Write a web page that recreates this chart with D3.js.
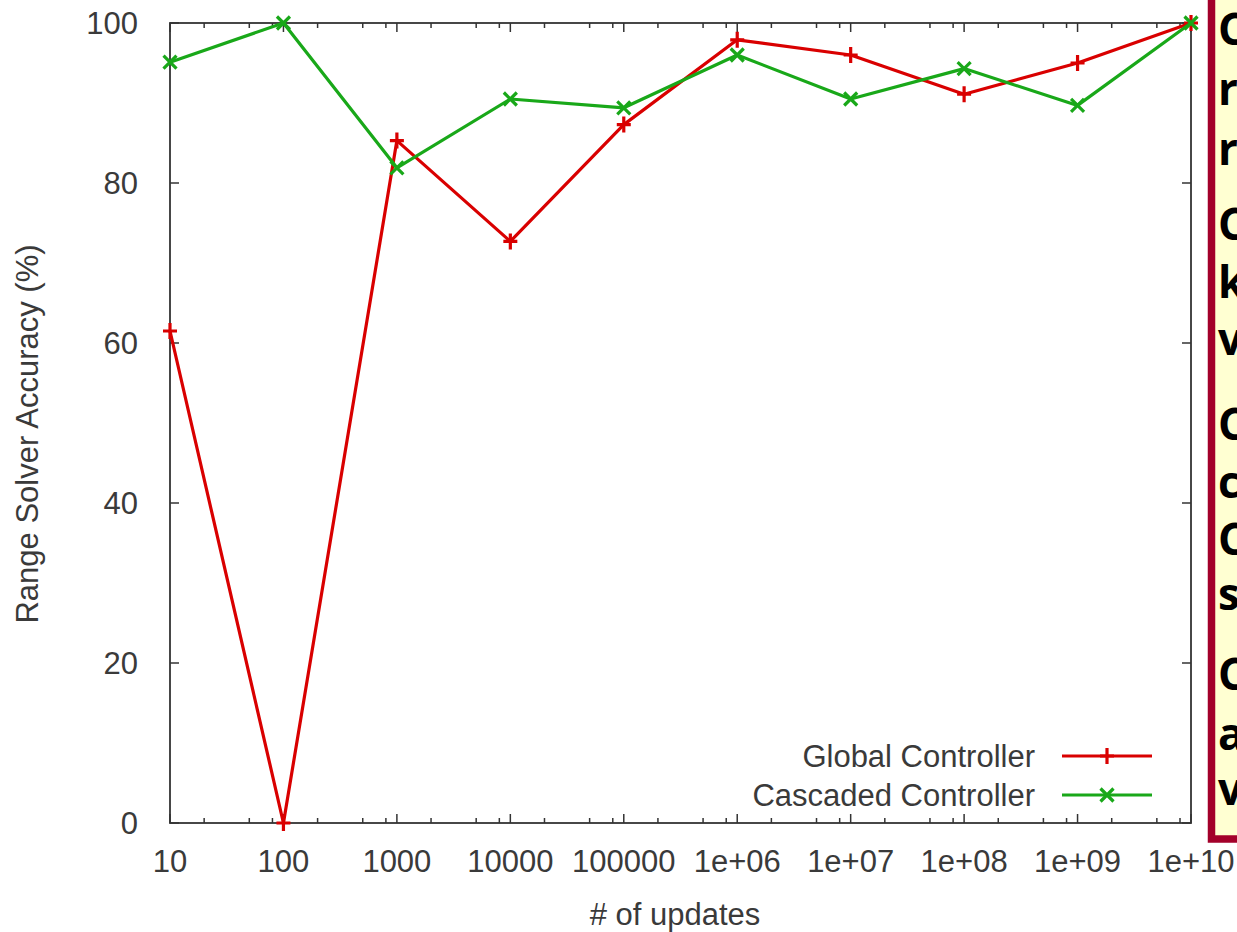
<!DOCTYPE html>
<html><head><meta charset="utf-8">
<script src="https://cdn.jsdelivr.net/npm/d3@7"></script>
<style>
html,body{margin:0;padding:0;background:#fff;overflow:hidden;}
svg text{font-family:"Liberation Sans",Arial,sans-serif;}
</style></head>
<body>
<svg id="c" width="1237" height="932"></svg>
<script>
const updates = [1e1,1e2,1e3,1e4,1e5,1e6,1e7,1e8,1e9,1e10];
const xTickLabels = ["10","100","1000","10000","100000","1e+06","1e+07","1e+08","1e+09","1e+10"];
const globalCtrl = [61.5,0,85.3,72.7,87.3,97.9,96.0,91.1,95.0,100];
const cascadedCtrl = [95.1,100,81.9,90.5,89.4,96.0,90.5,94.3,89.7,100];
const yTicks = [0,20,40,60,80,100];
const minorMult = [2,5,8];
const seriesNames = ["Global Controller","Cascaded Controller"];
const boxLetters = ["C","r","r","C","k","v","C","c","C","s","C","a","v"];
const boxLineY = [30,90,150,225,283,340,425,483,540,595,675,735,790];

const svg = d3.select("#c");
const L=170,R=1191,T=23,B=823;
const x = d3.scaleLog().domain([10,1e10]).range([L,R]);
const y = d3.scaleLinear().domain([0,100]).range([B,T]);
const axisCol="#333", txtCol="#3a3a3a", red="#d90000", green="#19a819";
const FS=31;

// right text box (partially off-screen)
svg.append("rect").attr("x",1211.5).attr("y",-20).attr("width",60).attr("height",859)
  .attr("fill","#ffffd2").attr("stroke","#a3002a").attr("stroke-width",7.5);
svg.append("g").selectAll("text").data(boxLetters).join("text")
  .attr("x",1218).attr("y",(d,i)=>boxLineY[i]+15)
  .attr("font-size",44).attr("font-weight",700).attr("fill","#000")
  .style("font-family","'Open Sans',sans-serif").text(d=>d);

// frame
svg.append("rect").attr("x",L).attr("y",T).attr("width",R-L).attr("height",B-T)
  .attr("fill","none").attr("stroke",axisCol).attr("stroke-width",1.8);

// x ticks (major + minor), bottom and top
const minors=[];
for(let k=1;k<10;k++) minorMult.forEach(m=>minors.push(m*Math.pow(10,k)));
const gt=svg.append("g").attr("stroke",axisCol).attr("stroke-width",1.5);
updates.forEach(v=>{
  gt.append("line").attr("x1",x(v)).attr("x2",x(v)).attr("y1",B).attr("y2",B-9);
  gt.append("line").attr("x1",x(v)).attr("x2",x(v)).attr("y1",T).attr("y2",T+9);
});
minors.forEach(v=>{
  gt.append("line").attr("x1",x(v)).attr("x2",x(v)).attr("y1",B).attr("y2",B-5);
  gt.append("line").attr("x1",x(v)).attr("x2",x(v)).attr("y1",T).attr("y2",T+5);
});
yTicks.forEach(v=>{
  gt.append("line").attr("x1",L).attr("x2",L+9).attr("y1",y(v)).attr("y2",y(v));
  gt.append("line").attr("x1",R).attr("x2",R-9).attr("y1",y(v)).attr("y2",y(v));
});

// tick labels
svg.append("g").selectAll("text").data(updates).join("text")
  .attr("x",d=>x(d)).attr("y",B+49).attr("text-anchor","middle")
  .attr("font-size",FS).attr("fill",txtCol).text((d,i)=>xTickLabels[i]);
svg.append("g").selectAll("text").data(yTicks).join("text")
  .attr("x",L-32).attr("y",d=>y(d)+11).attr("text-anchor","end")
  .attr("font-size",FS).attr("fill",txtCol).text(d=>d);

// axis titles
svg.append("text").attr("x",675).attr("y",925).attr("text-anchor","middle")
  .attr("font-size",FS).attr("fill",txtCol).text("# of updates");
svg.append("text").attr("transform","translate(38,434) rotate(-90)").attr("text-anchor","middle")
  .attr("font-size",FS).attr("fill",txtCol).text("Range Solver Accuracy (%)");

// lines
const line=d3.line().x((d,i)=>x(updates[i])).y(d=>y(d));
function plus(g,cx,cy,col){
  g.append("path").attr("d",`M${cx-7},${cy}H${cx+7}M${cx},${cy-8}V${cy+8}`).attr("stroke",col).attr("stroke-width",3.2).attr("fill","none");
}
function cross(g,cx,cy,col){
  g.append("path").attr("d",`M${cx-6.5},${cy-6.5}L${cx+6.5},${cy+6.5}M${cx-6.5},${cy+6.5}L${cx+6.5},${cy-6.5}`).attr("stroke",col).attr("stroke-width",3.2).attr("fill","none");
}
const series=[{v:globalCtrl,c:red,m:plus},{v:cascadedCtrl,c:green,m:cross}];
series.forEach(s=>{
  const g=svg.append("g");
  g.append("path").datum(s.v).attr("d",line).attr("fill","none").attr("stroke",s.c).attr("stroke-width",3.2).attr("stroke-linejoin","round");
  s.v.forEach((d,i)=>s.m(g,x(updates[i]),y(d),s.c));
});

// legend
const legY=[756,795];
seriesNames.forEach((n,i)=>{
  const g=svg.append("g");
  g.append("text").attr("x",1035).attr("y",legY[i]+11).attr("text-anchor","end")
    .attr("font-size",FS).attr("fill",txtCol).text(n);
  g.append("line").attr("x1",1062).attr("x2",1152).attr("y1",legY[i]).attr("y2",legY[i])
    .attr("stroke",series[i].c).attr("stroke-width",3.2);
  series[i].m(g,1107,legY[i],series[i].c);
});
</script>
</body></html>
